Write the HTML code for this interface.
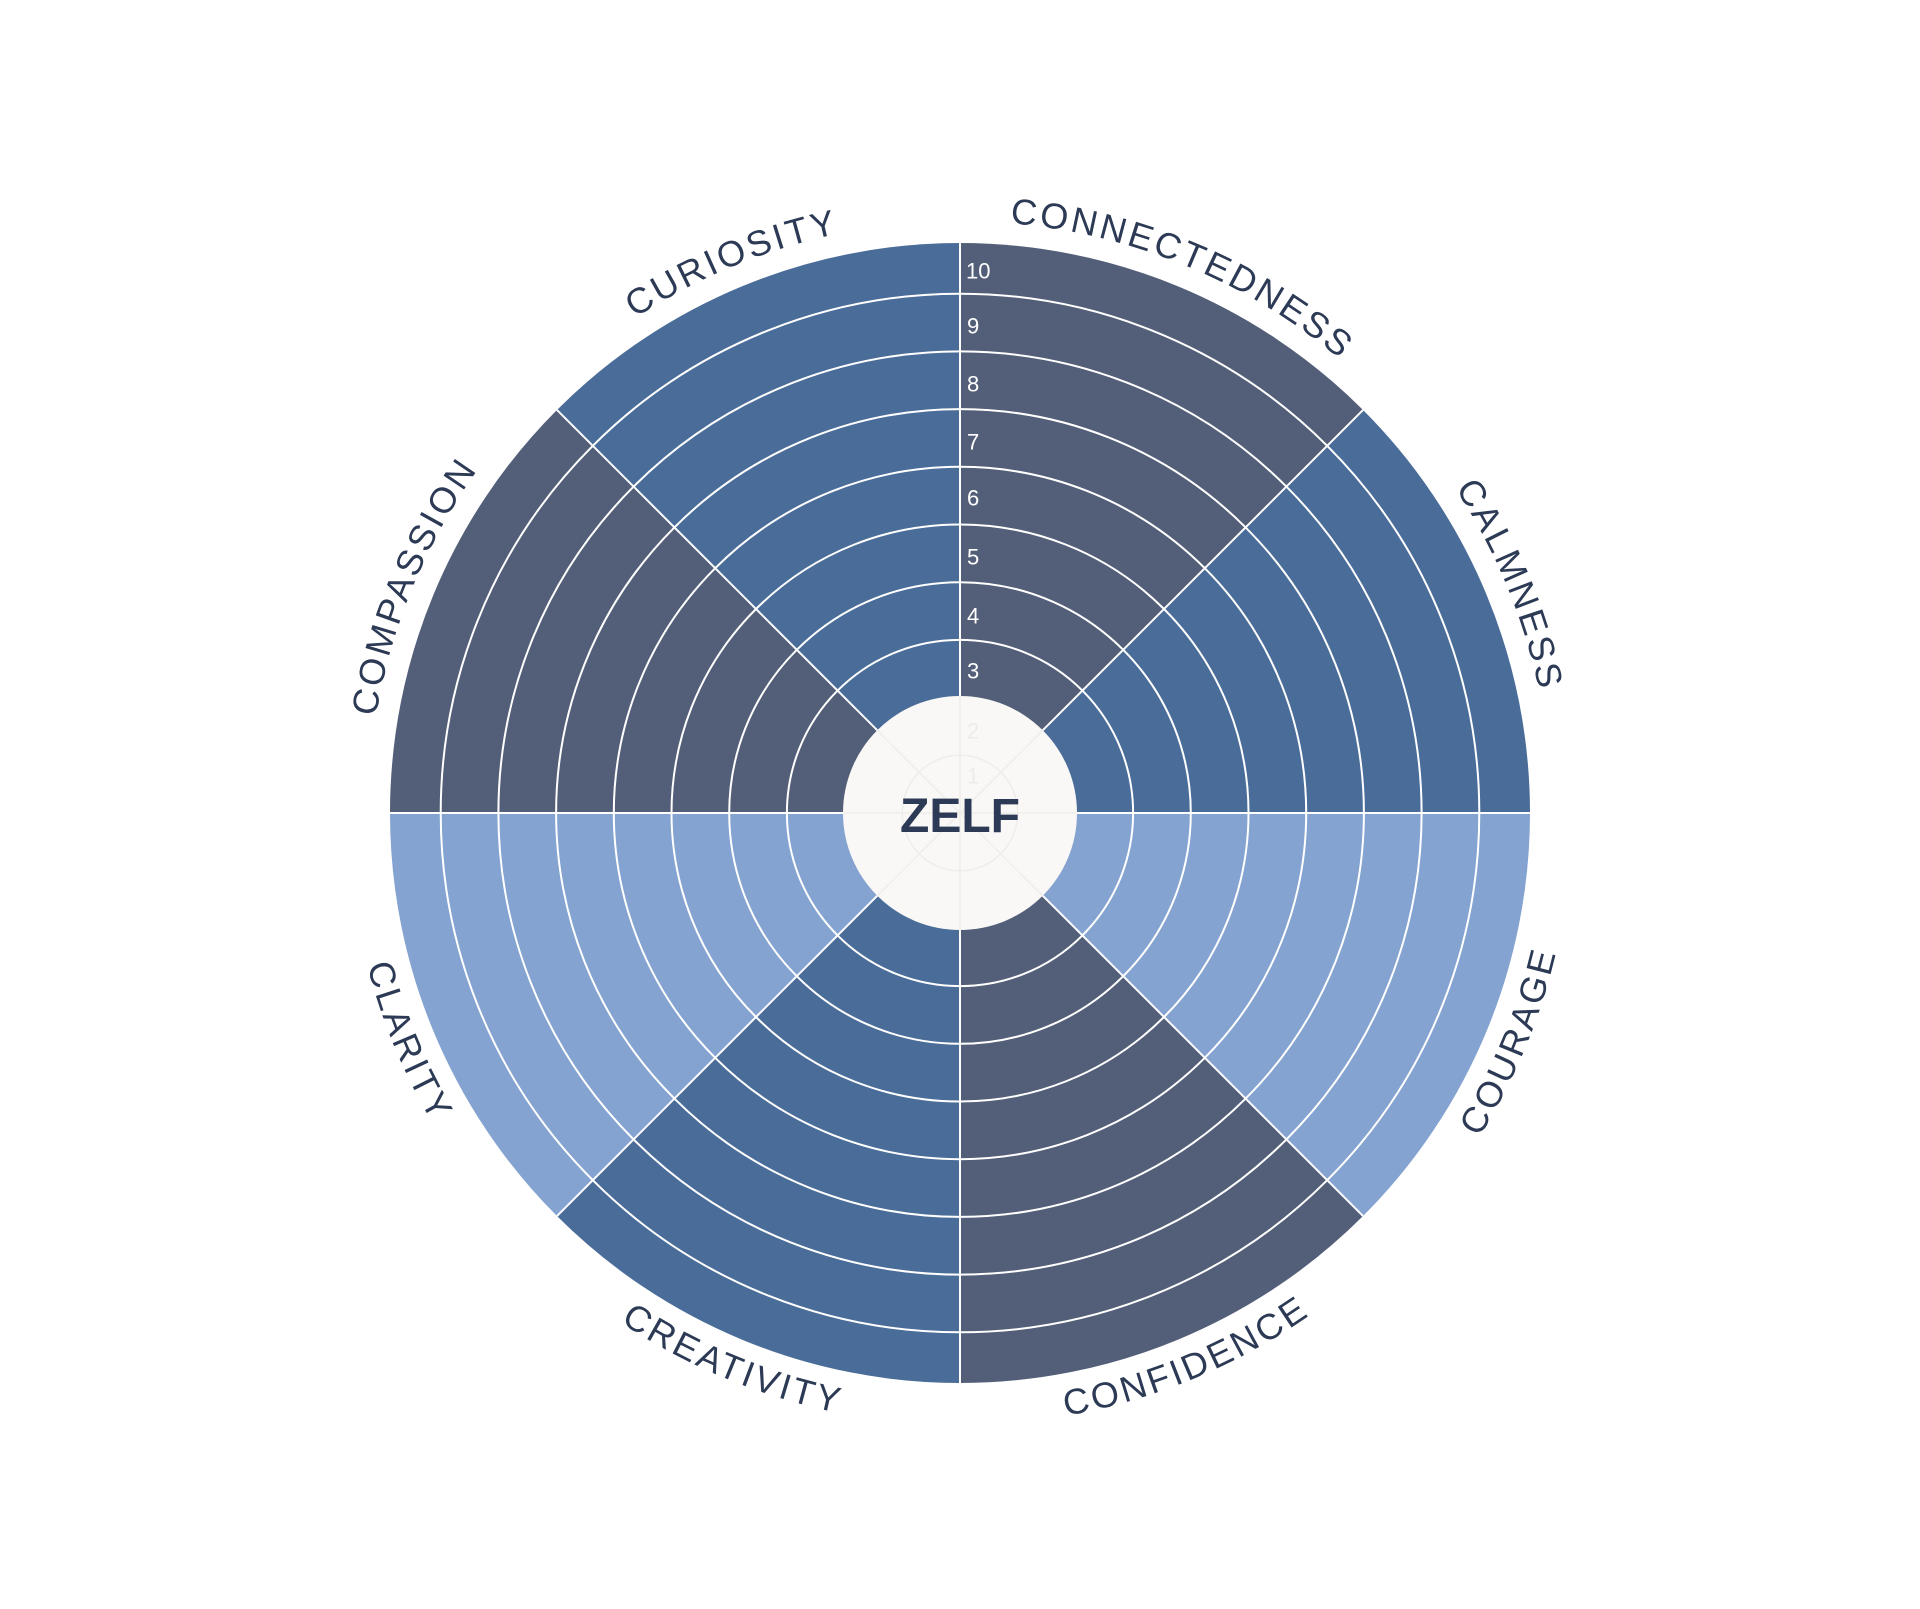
<!DOCTYPE html>
<html><head><meta charset="utf-8"><style>html,body{margin:0;padding:0;background:#fff}svg{display:block}</style></head>
<body>
<svg width="1920" height="1609" viewBox="0 0 1920 1609" xmlns="http://www.w3.org/2000/svg">
<rect width="1920" height="1609" fill="#fff"/>
<g transform="translate(960,813)">
<g stroke="none">
<path d="M0,0 L0,-570 A570,570 0 0 1 403.05,-403.05 Z" fill="#535f78"/>
<path d="M0,0 L403.05,-403.05 A570,570 0 0 1 570,0 Z" fill="#4a6c99"/>
<path d="M0,0 L570,0 A570,570 0 0 1 403.05,403.05 Z" fill="#84a3d0"/>
<path d="M0,0 L403.05,403.05 A570,570 0 0 1 0,570 Z" fill="#535f78"/>
<path d="M0,0 L0,570 A570,570 0 0 1 -403.05,403.05 Z" fill="#4a6c99"/>
<path d="M0,0 L-403.05,403.05 A570,570 0 0 1 -570,0 Z" fill="#84a3d0"/>
<path d="M0,0 L-570,0 A570,570 0 0 1 -403.05,-403.05 Z" fill="#535f78"/>
<path d="M0,0 L-403.05,-403.05 A570,570 0 0 1 0,-570 Z" fill="#4a6c99"/>
</g>
<g fill="none" stroke="#fff" stroke-width="2">
<circle r="115.4"/><circle r="173.1"/><circle r="230.8"/><circle r="288.5"/>
<circle r="346.2"/><circle r="403.9"/><circle r="461.6"/><circle r="519.3"/>
<line x1="0" y1="-570" x2="0" y2="570"/>
<line x1="-570" y1="0" x2="570" y2="0"/>
<line x1="-403.05" y1="-403.05" x2="403.05" y2="403.05"/>
<line x1="403.05" y1="-403.05" x2="-403.05" y2="403.05"/>
</g>
<circle r="117" fill="#f9f8f6"/>
<g fill="none" stroke="#efedea" stroke-width="1.5">
<circle r="57.7"/>
<line x1="0" y1="-117" x2="0" y2="117"/>
<line x1="-117" y1="0" x2="117" y2="0"/>
<line x1="-83" y1="-83" x2="83" y2="83"/>
<line x1="83" y1="-83" x2="-83" y2="83"/>
</g>
</g>
<g font-family="Liberation Sans, sans-serif" font-size="22" fill="#fff" dominant-baseline="central">
<text x="966" y="271">10</text>
<text x="967" y="326">9</text>
<text x="967" y="384">8</text>
<text x="967" y="442">7</text>
<text x="967" y="498">6</text>
<text x="967" y="557">5</text>
<text x="967" y="616">4</text>
<text x="967" y="671">3</text>
<text x="967" y="731" fill="#ecebe8">2</text>
<text x="967" y="776" fill="#ecebe8">1</text>
</g>
<text x="960" y="832" text-anchor="middle" font-family="Liberation Sans, sans-serif" font-weight="bold" font-size="48" fill="#2c3a55">ZELF</text>
<defs>
<path id="p1" d="M425.7,558.1 A592,592 0 0 1 1157.6,255.0"/>
<path id="p2" d="M762.4,255.0 A592,592 0 0 1 1494.3,558.1"/>
<path id="p3" d="M1214.9,278.7 A592,592 0 0 1 1518.0,1010.6"/>
<path id="p4" d="M1223.5,1365.4 A612,612 0 0 0 1537.1,608.9"/>
<path id="p5" d="M755.7,1389.9 A612,612 0 0 0 1512.4,1076.5"/>
<path id="p6" d="M407.6,1076.5 A612,612 0 0 0 1164.3,1389.9"/>
<path id="p7" d="M383.1,608.9 A612,612 0 0 0 696.5,1365.4"/>
<path id="p8" d="M402.0,1010.6 A592,592 0 0 1 705.1,278.7"/>
</defs>
<g font-family="Liberation Sans, sans-serif" font-size="36" fill="#2c3a55" letter-spacing="3" text-anchor="middle">
<text><textPath href="#p1" startOffset="50%">CURIOSITY</textPath></text>
<text><textPath href="#p2" startOffset="50%">CONNECTEDNESS</textPath></text>
<text><textPath href="#p3" startOffset="50%">CALMNESS</textPath></text>
<text><textPath href="#p4" startOffset="50%">COURAGE</textPath></text>
<text><textPath href="#p5" startOffset="50%">CONFIDENCE</textPath></text>
<text><textPath href="#p6" startOffset="50%">CREATIVITY</textPath></text>
<text><textPath href="#p7" startOffset="50%">CLARITY</textPath></text>
<text><textPath href="#p8" startOffset="50%">COMPASSION</textPath></text>
</g>
</svg>
</body></html>
